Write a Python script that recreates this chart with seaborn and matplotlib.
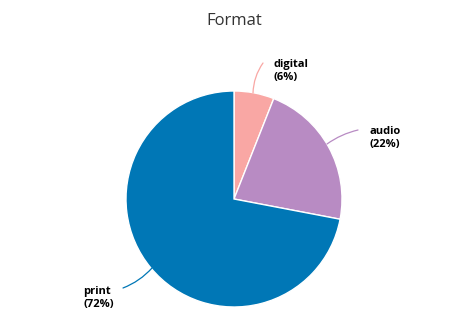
import matplotlib
matplotlib.use("Agg")
import matplotlib.pyplot as plt
import seaborn as sns

categories = ["digital", "audio", "print"]
values = [6, 22, 72]
colors = ["#f9a7a4", "#b88bc3", "#0077b6"]

sns.set_theme(style="white")
plt.rcParams['font.family'] = ['Open Sans', 'DejaVu Sans']

W, H = 475, 333
fig = plt.figure(figsize=(W / 100, H / 100), dpi=100)
fig.patch.set_facecolor("white")

cx, cy, r = 234, 199, 108
ax = fig.add_axes([(cx - r) / W, (H - (cy + r)) / H, 2 * r / W, 2 * r / H])
ax.pie(values, colors=colors, startangle=90, counterclock=False,
       wedgeprops=dict(edgecolor="white", linewidth=1))
ax.set_xlim(-1, 1)
ax.set_ylim(-1, 1)
ax.set_aspect("equal")
ax.axis("off")

def d(px, py):
    return ((px - cx) / r, (cy - py) / r)

# leader lines: (start on slice, end near label), label position, rad
leaders = [
    ((253, 93), (263, 63), (273, 71), 0.15),
    ((327, 144), (358, 130), (369, 138), 0.1),
    ((152, 268), (123, 288), (83, 298), 0.12),
]
for (s, e, t, rad), cat, val, col in zip(leaders, categories, values, colors):
    ax.annotate("", xy=d(*s), xytext=d(*e), xycoords="data",
                arrowprops=dict(arrowstyle="-", color=col, lw=0.9,
                                connectionstyle=f"arc3,rad={rad}",
                                shrinkA=0, shrinkB=0),
                annotation_clip=False)
    ax.text(*d(*t), f"{cat}\n({val}%)", ha="left", va="center",
            fontsize=8, fontweight="bold", color="black", linespacing=1.15,
            clip_on=False)

fig.text(234 / W, 1 - 21 / H, "Format", ha="center", va="center",
         fontsize=12, color="#333333")

fig.savefig("out.png", dpi=100)
